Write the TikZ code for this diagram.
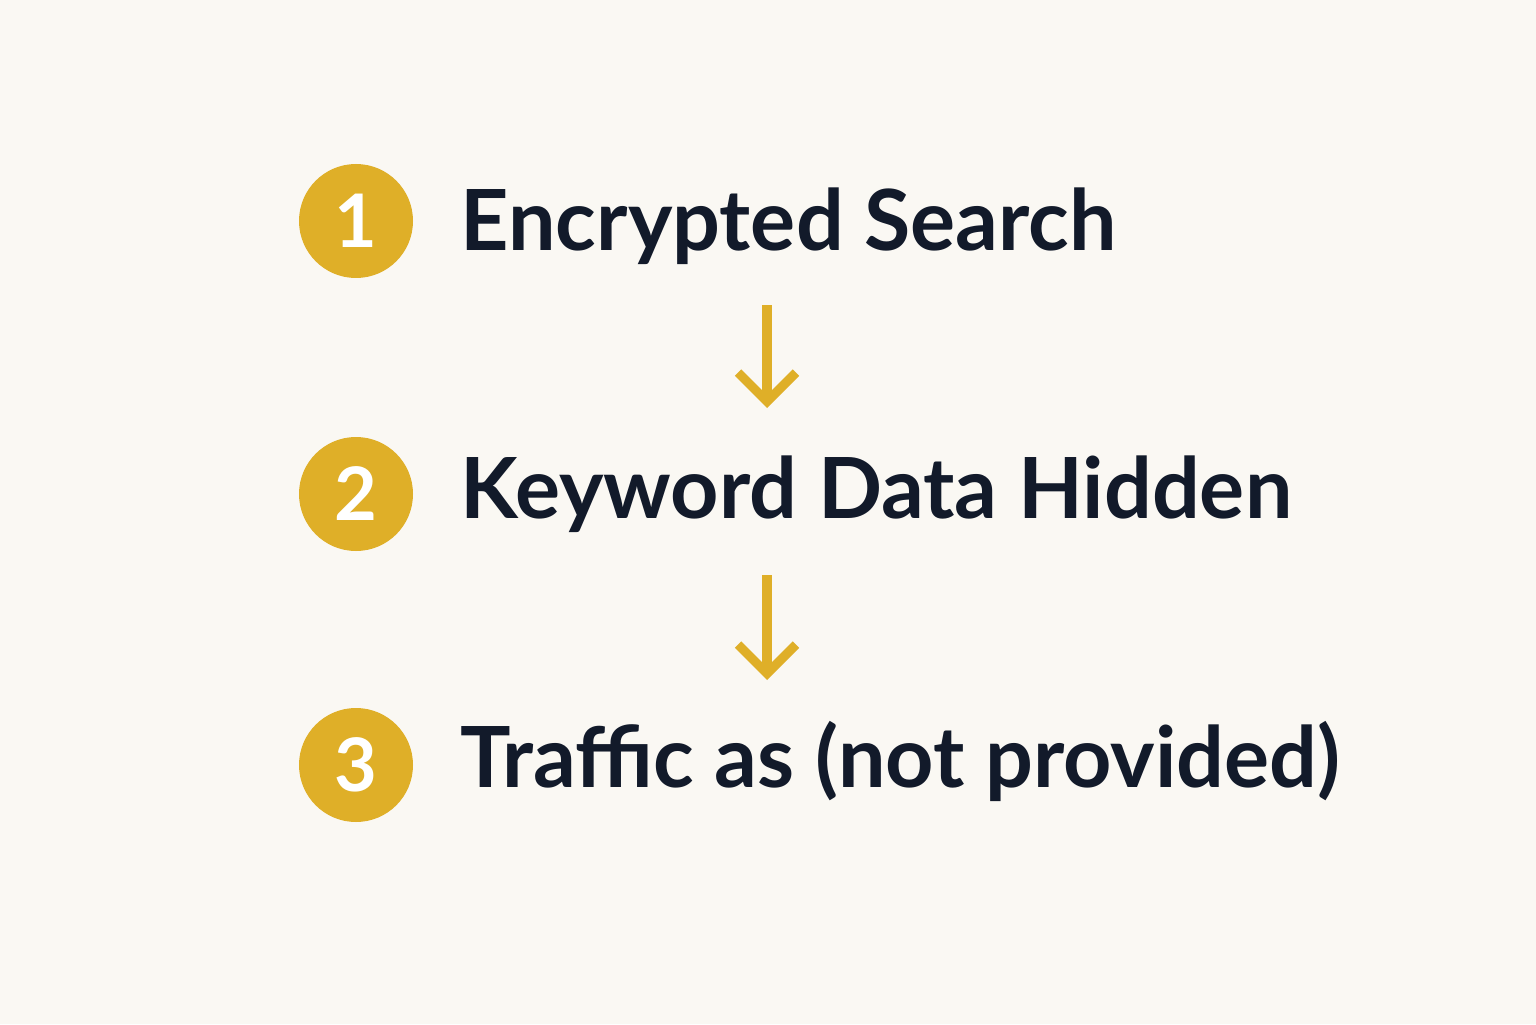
\documentclass[tikz,border=0pt]{standalone}
\usepackage{fontspec}
\setmainfont{Lato}
\usetikzlibrary{arrows.meta}
\definecolor{bgcream}{HTML}{FAF8F3}
\definecolor{stepgold}{HTML}{DFAF28}
\definecolor{inknavy}{HTML}{121A2A}

\begin{document}
\begin{tikzpicture}[
    badge/.style={circle, fill=stepgold, minimum size=1.14cm, inner sep=0pt, text=white, font=\fontsize{21}{21}\selectfont\bfseries},
    steptext/.style={anchor=base west, inner sep=0pt, text=inknavy, font=\fontsize{24}{24}\selectfont\bfseries},
    flow arrow/.style={stepgold, line width=2.6pt, -{Straight Barb[length=2.9mm, width=5.8mm]}}
]

% Background
\fill[bgcream] (0, 0) rectangle (15.36, 10.24);
\useasboundingbox (0, 0) rectangle (15.36, 10.24);

% Step 1
\node[badge] (b1) at (3.56, 8.03) {1};
\node[steptext] (t1) at (4.60, 7.74) {Encrypted Search};

% Step 2
\node[badge] (b2) at (3.56, 5.30) {2};
\node[steptext] (t2) at (4.60, 5.06) {Keyword Data Hidden};

% Step 3
\node[badge] (b3) at (3.56, 2.59) {3};
\node[steptext] (t3) at (4.60, 2.37) {Traffic as (not provided)};

% Arrows between steps
\coordinate (a1s) at (7.67, 7.19);
\coordinate (a1e) at (7.67, 6.16);
\coordinate (a2s) at (7.67, 4.49);
\coordinate (a2e) at (7.67, 3.44);

\draw[flow arrow] (a1s) -- (a1e);
\draw[flow arrow] (a2s) -- (a2e);

\end{tikzpicture}
\end{document}
